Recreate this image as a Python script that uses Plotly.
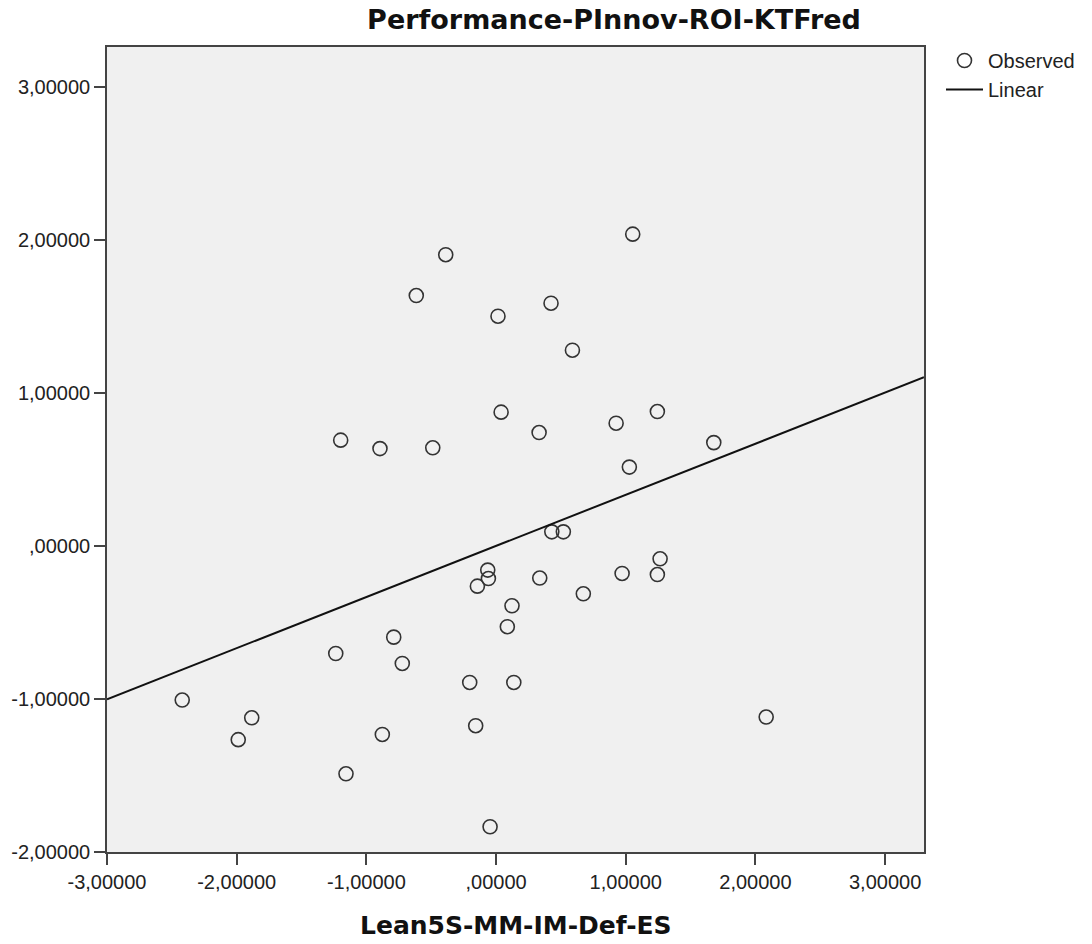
import numpy as np
import plotly.graph_objects as go

lean_x = [1.054, -0.388, -0.615, 0.015, 0.424, 0.589, 0.039, 0.332, 0.926, 1.244,
          -1.198, -0.895, -0.488, 1.028, 1.679, 0.430, 0.519, 1.265, -0.064, -0.059,
          -0.144, 0.337, 0.972, 1.244, 0.673, 0.123, 0.087, -0.203, 0.137, -2.420,
          -1.884, -1.988, -1.236, -0.789, -0.723, -0.877, -1.157, -0.157, -0.046, 2.083]
perf_y = [2.037, 1.903, 1.636, 1.501, 1.586, 1.279, 0.874, 0.741, 0.802, 0.878,
          0.691, 0.636, 0.641, 0.515, 0.675, 0.092, 0.092, -0.084, -0.158, -0.213,
          -0.263, -0.210, -0.180, -0.187, -0.313, -0.391, -0.528, -0.892, -0.892, -1.007,
          -1.123, -1.266, -0.703, -0.596, -0.768, -1.232, -1.489, -1.175, -1.835, -1.118]

x_tickvals = [-3, -2, -1, 0, 1, 2, 3]
x_ticktext = ["-3,00000", "-2,00000", "-1,00000", ",00000", "1,00000", "2,00000", "3,00000"]
y_tickvals = [-2, -1, 0, 1, 2, 3]
y_ticktext = ["-2,00000", "-1,00000", ",00000", "1,00000", "2,00000", "3,00000"]

x_range = [-3.0, 3.30]
y_range = [-2.0, 3.26]

title_text = "Performance-PInnov-ROI-KTFred"
x_title = "Lean5S-MM-IM-Def-ES"

# Linear fit from the observed data
slope, intercept = np.polyfit(lean_x, perf_y, 1)
line_x = np.array(x_range)
line_y = intercept + slope * line_x

fig = go.Figure()
fig.add_trace(go.Scatter(
    x=lean_x, y=perf_y, mode="markers", name="Observed",
    marker=dict(symbol="circle-open", size=14, color="#333333",
                line=dict(width=1.6, color="#333333")),
))
fig.add_trace(go.Scatter(
    x=line_x, y=line_y, mode="lines", name="Linear",
    line=dict(color="#111111", width=2),
))

axis_common = dict(
    showgrid=False, zeroline=False, showline=True, mirror=True,
    linecolor="#444444", linewidth=1.6, ticks="outside", ticklen=11,
    tickwidth=1.6, tickcolor="#444444",
    tickfont=dict(family="Liberation Sans, Arial, sans-serif", size=20, color="#222222"),
)

fig.update_layout(
    width=1092, height=944,
    margin=dict(l=107, r=168, t=47, b=92),
    paper_bgcolor="white", plot_bgcolor="#F0F0F0",
    title=dict(text=title_text, x=614 / 1092, xref="container", xanchor="center",
               y=1 - 20 / 944, yref="container", yanchor="middle",
               font=dict(family="DejaVu Sans, sans-serif", size=27, color="#111111",
                         weight="bold")),
    xaxis=dict(range=x_range, tickvals=x_tickvals, ticktext=x_ticktext, **axis_common),
    yaxis=dict(range=y_range, tickvals=y_tickvals, ticktext=y_ticktext, **axis_common),
    legend=dict(x=(941 - 107) / 817, y=1 + 6 / 805, xanchor="left", yanchor="top",
                bgcolor="rgba(0,0,0,0)", borderwidth=0, itemwidth=37,
                font=dict(family="Liberation Sans, Arial, sans-serif", size=20,
                          color="#222222"),
                tracegroupgap=0),
    showlegend=True,
    annotations=[dict(text=x_title, xref="paper", yref="paper", x=0.5, y=-(925 - 852) / 805,
                      xanchor="center", yanchor="middle", showarrow=False,
                      font=dict(family="DejaVu Sans, sans-serif", size=25,
                                color="#111111", weight="bold"))],
)

fig.write_html(
    "out.html",
    config={"displayModeBar": False},
    post_script="document.body.style.margin='0';document.body.style.padding='0';"
                "document.body.style.overflow='hidden';",
)
